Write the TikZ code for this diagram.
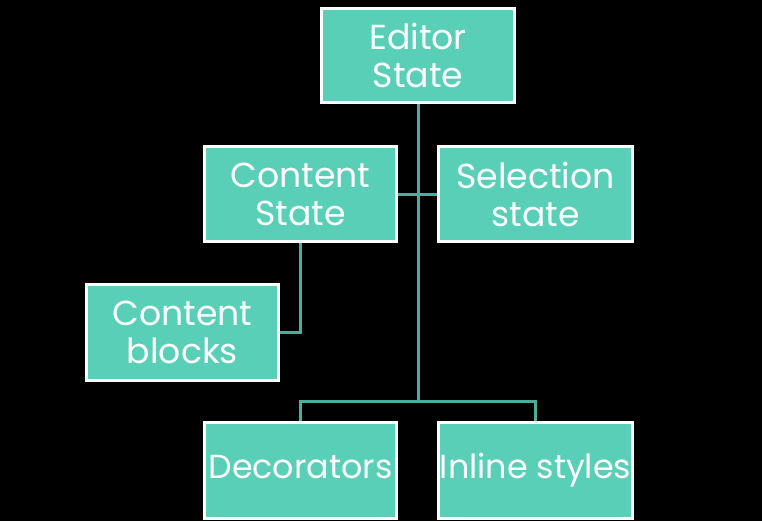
\documentclass[tikz,border=0pt]{standalone}
\usepackage{fontspec}
\setmainfont{Poppins}
\definecolor{boxfill}{HTML}{5ACFB8}
\definecolor{linecol}{HTML}{4AAE9B}
\begin{document}
\begin{tikzpicture}[x=0.75pt,y=-0.75pt,
  box/.style={draw=white, line width=2.25pt, fill=boxfill, text=white,
    inner sep=0pt, align=center, font=\fontsize{26}{28.5}\selectfont},
  onebox/.style={box, font=\fontsize{25}{28.5}\selectfont, text height=1.35em, text depth=0.2em},
  conn/.style={draw=linecol, line width=2.25pt}]
\fill[black] (0,0) rectangle (762,521);
\useasboundingbox (0,0) rectangle (762,521);
\coordinate (bus) at (418,401);
\node[box, minimum width=193*0.75pt, minimum height=94*0.75pt] (ed) at (418,55.5) {Editor\\State};
\node[box, minimum width=192*0.75pt, minimum height=95*0.75pt] (cs) at (300.5,194) {Content\\State};
\node[box, minimum width=194*0.75pt, minimum height=95*0.75pt] (ss) at (535.5,194) {Selection\\state};
\node[box, minimum width=192*0.75pt, minimum height=96*0.75pt] (cb) at (182.5,332.5) {Content\\blocks};
\node[onebox, minimum width=192*0.75pt, minimum height=96*0.75pt] (dec) at (300.5,470.5) {Decorators};
\node[onebox, minimum width=194*0.75pt, minimum height=96*0.75pt] (inl) at (535.5,470.5) {Inline styles};
\draw[conn] (ed.south) -- (bus);
\draw[conn] (bus) -| (dec.north);
\draw[conn] (bus) -| (inl.north);
\draw[conn] (cs.east) -- (ss.west);
\draw[conn] (cs.south) |- (cb.east);
\end{tikzpicture}
\end{document}
